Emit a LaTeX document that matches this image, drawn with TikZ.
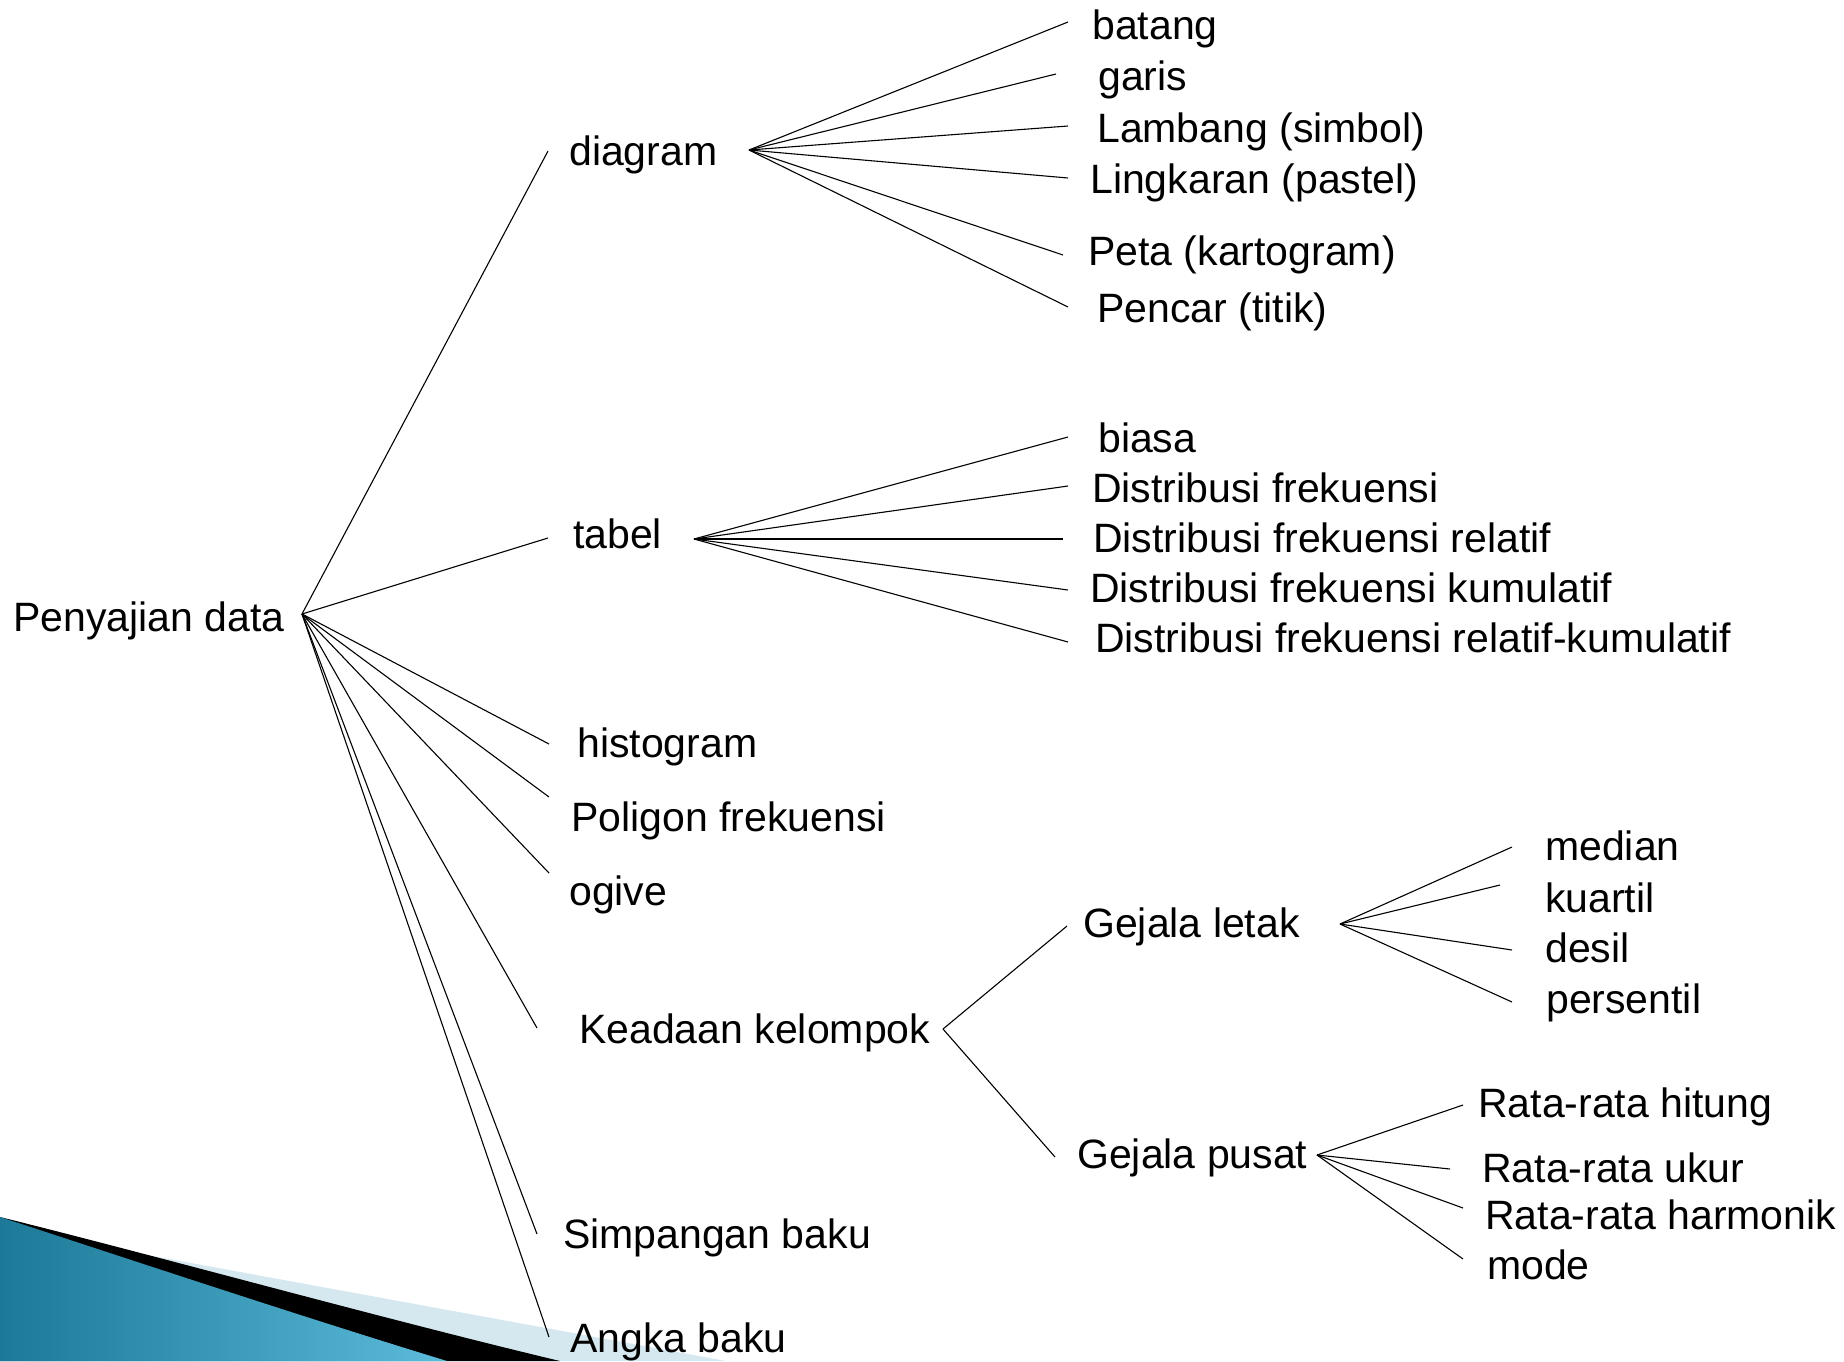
\documentclass[tikz,border=0pt]{standalone}
\usepackage{fontspec}
\setmainfont{Liberation Sans}
\begin{document}
\begin{tikzpicture}[x=1pt,y=-1pt,
  lbl/.style={anchor=base west, inner sep=0pt, font=\fontsize{41pt}{49pt}\selectfont},
  conn/.style={line width=1.1pt, black},
  deco/.style={draw=none}]
\fill[white] (0,0) rectangle (1844,1361);
\useasboundingbox (0,0) rectangle (1844,1361);
% corner decoration
\fill[deco, fill={rgb,255:red,213;green,232;blue,240}] (0,1228) -- (726,1361) -- (0,1361) -- cycle;
\fill[deco, fill=black] (0,1217) .. controls (150,1254) and (380,1318) .. (560,1361) -- (0,1361) -- cycle;
\shade[deco, left color={rgb,255:red,28;green,122;blue,152}, right color={rgb,255:red,92;green,186;blue,218}]
  (0,1217) .. controls (150,1266) and (300,1316) .. (447,1361) -- (0,1361) -- cycle;

% labels
\node[lbl] (root) at (13,631) {Penyajian data};
\node[lbl] (diagram) at (569,165) {diagram};
\node[lbl] (tabel) at (573,548) {tabel};
\node[lbl] (histogram) at (577,757) {histogram};
\node[lbl] (poligon) at (571,831) {Poligon frekuensi};
\node[lbl] (ogive) at (569,905) {ogive};
\node[lbl] (keadaan) at (579,1043) {Keadaan kelompok};
\node[lbl] (simpangan) at (563,1248) {Simpangan baku};
\node[lbl] (angka) at (570,1352) {Angka baku};

\node[lbl] (batang) at (1092,39) {batang};
\node[lbl] (garis) at (1098,90) {garis};
\node[lbl] (lambang) at (1097,142) {Lambang (simbol)};
\node[lbl] (lingkaran) at (1090,193) {Lingkaran (pastel)};
\node[lbl] (peta) at (1088,265) {Peta (kartogram)};
\node[lbl] (pencar) at (1097,322) {Pencar (titik)};

\node[lbl] (biasa) at (1098,452) {biasa};
\node[lbl] (dfrek) at (1092,502) {Distribusi frekuensi};
\node[lbl] (drel) at (1093,552) {Distribusi frekuensi relatif};
\node[lbl] (dkum) at (1090,602) {Distribusi frekuensi kumulatif};
\node[lbl] (drelkum) at (1095,652) {Distribusi frekuensi relatif-kumulatif};

\node[lbl] (letak) at (1083,937) {Gejala letak};
\node[lbl] (pusat) at (1077,1168) {Gejala pusat};

\node[lbl] (median) at (1545,860) {median};
\node[lbl] (kuartil) at (1545,912) {kuartil};
\node[lbl] (desil) at (1545,962) {desil};
\node[lbl] (persentil) at (1546,1013) {persentil};

\node[lbl] (hitung) at (1478,1117) {Rata-rata hitung};
\node[lbl] (ukur) at (1482,1182) {Rata-rata ukur};
\node[lbl] (harmonik) at (1485,1229) {Rata-rata harmonik};
\node[lbl] (mode) at (1487,1279) {mode};

% fan points
\coordinate (fR) at (302,614);
\coordinate (fD) at (749,150);
\coordinate (fT) at (694,539);
\coordinate (fK) at (943,1029);
\coordinate (fL) at (1340,924);
\coordinate (fP) at (1317,1155);

% line ends
\coordinate (e-diagram) at (548,151);
\coordinate (e-tabel) at (548,538);
\coordinate (e-histogram) at (549,744);
\coordinate (e-poligon) at (549,797);
\coordinate (e-ogive) at (549,873);
\coordinate (e-keadaan) at (537,1028);
\coordinate (e-simpangan) at (537,1234);
\coordinate (e-angka) at (549,1337);

\coordinate (e-batang) at (1068,22);
\coordinate (e-garis) at (1056,74);
\coordinate (e-lambang) at (1068,126);
\coordinate (e-lingkaran) at (1068,178);
\coordinate (e-peta) at (1063,255);
\coordinate (e-pencar) at (1068,307);

\coordinate (e-biasa) at (1068,437);
\coordinate (e-dfrek) at (1068,486);
\coordinate (e-drel) at (1063,539);
\coordinate (e-dkum) at (1068,590);
\coordinate (e-drelkum) at (1068,642);

\coordinate (e-letak) at (1067,926);
\coordinate (e-pusat) at (1055,1157);

\coordinate (e-median) at (1512,847);
\coordinate (e-kuartil) at (1500,885);
\coordinate (e-desil) at (1512,950);
\coordinate (e-persentil) at (1512,1002);

\coordinate (e-hitung) at (1463,1105);
\coordinate (e-ukur) at (1450,1169);
\coordinate (e-harmonik) at (1463,1208);
\coordinate (e-mode) at (1463,1259);

% connectors
\foreach \t in {diagram,tabel,histogram,poligon,ogive,keadaan,simpangan,angka}
  \draw[conn] (fR) -- (e-\t);
\foreach \t in {batang,garis,lambang,lingkaran,peta,pencar}
  \draw[conn] (fD) -- (e-\t);
\foreach \t in {biasa,dfrek,drel,dkum,drelkum}
  \draw[conn] (fT) -- (e-\t);
\foreach \t in {letak,pusat}
  \draw[conn] (fK) -- (e-\t);
\foreach \t in {median,kuartil,desil,persentil}
  \draw[conn] (fL) -- (e-\t);
\foreach \t in {hitung,ukur,harmonik,mode}
  \draw[conn] (fP) -- (e-\t);
\end{tikzpicture}
\end{document}
